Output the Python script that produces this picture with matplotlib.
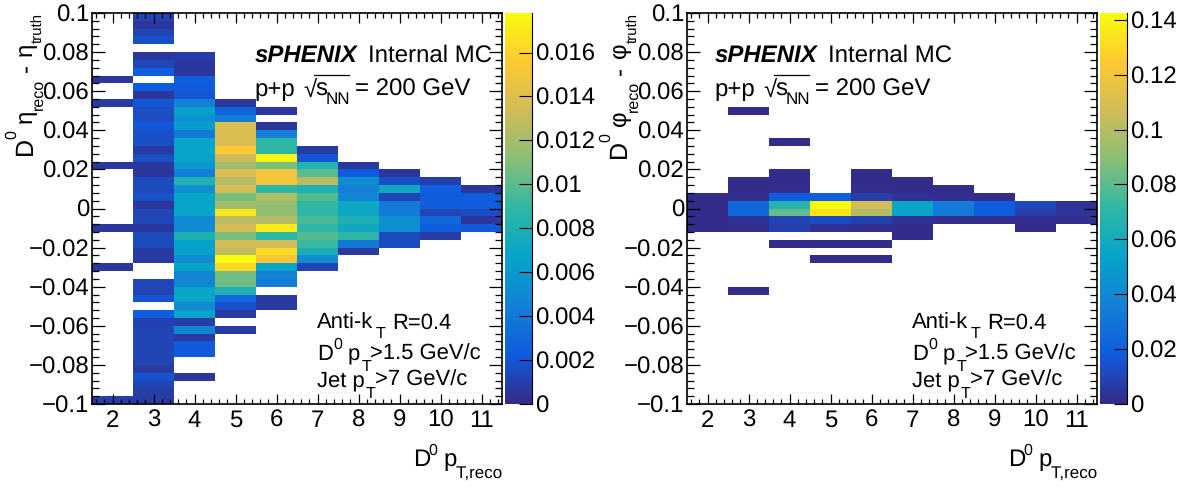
import numpy as np
import matplotlib
matplotlib.use("Agg")
import matplotlib.pyplot as plt
from matplotlib.colors import LinearSegmentedColormap
from matplotlib.lines import Line2D
from matplotlib.ticker import MultipleLocator, AutoMinorLocator

plt.rcParams['font.family'] = ['Liberation Sans', 'DejaVu Sans']
plt.rcParams['text.hinting'] = 'no_hinting'
plt.rcParams['text.hinting_factor'] = 1

pt_edges = np.arange(1.5, 12.5, 1)
res_edges = np.linspace(0.1, -0.1, 51)
pt_ticks = [2, 3, 4, 5, 6, 7, 8, 9, 10, 11]

# eta residual, one list per pT bin, top row (0.1) to bottom row (-0.1)
eta_pt2 = [0] * 8 + [0.0006] + [0] * 2 + [0.0007] + [0] * 7 + [0.0006] + [0] * 7 + [0.0006] + [0] * 4 + [0.0006] + [0] * 16 + [0.0009]
eta_pt3 = [0.0012, 0.0006, 0.0012, 0.0017, 0, 0.0006, 0.0012, 0.0024, 0, 0.0023, 0.0006, 0.002, 0.0016, 0.0016,
           0.0021, 0.0017, 0.0017, 0.0007, 0.0016, 0.0006, 0.0006, 0.0014, 0.0014, 0.0017, 0.0006,
           0.0013, 0.0013, 0.0006, 0.0014, 0.0014, 0.0007, 0.0007, 0, 0, 0.0013, 0.0012, 0.0019, 0, 0.0024,
           0.0011, 0.0012, 0.0012, 0.0012, 0.0012, 0.0012, 0.0007, 0.0018, 0.0012, 0.0008, 0.0008]
eta_pt4 = [0] * 5 + [0.0008, 0.0006, 0.0006, 0.0024, 0.0022, 0.002, 0.0045, 0.0066, 0.0055, 0.0062,
                     0.004, 0.0068, 0.0068, 0.0068, 0.006, 0.0042, 0.0082, 0.0055, 0.0068, 0.0068,
                     0.0068, 0.005, 0.0052, 0.008, 0.0066, 0.0066, 0.0052, 0.0066, 0.0048, 0.0048, 0.0068, 0.0068,
                     0.0052, 0.0066, 0.0009, 0.0048, 0.0007, 0.0022, 0.0022, 0, 0, 0.0006, 0, 0, 0]
eta_pt5 = [0] * 11 + [0.0006, 0.0028, 0.0042, 0.0138, 0.0138, 0.0138, 0.0155, 0.0132,
                      0.0118, 0.0138, 0.0125, 0.0135, 0.0108, 0.012,
                      0.0168, 0.0128, 0.0135, 0.0108, 0.0135, 0.0128, 0.0178, 0.0162, 0.0105, 0.0105, 0.008, 0.003,
                      0.0018, 0.0007, 0, 0.0007] + [0] * 9
eta_pt6 = [0] * 12 + [0.0006, 0, 0.0006, 0.0044, 0.0088, 0.0088, 0.0175, 0.0108, 0.015, 0.015, 0.0088, 0.0123, 0.0115,
                      0.0115, 0.0125, 0.017, 0.0088, 0.0135, 0.0163, 0.0153, 0.0068, 0.0046, 0.0042, 0,
                      0.0007, 0.0007] + [0] * 12
eta_pt7 = [0] * 17 + [0.0007, 0.002, 0.0082, 0.01, 0.0125, 0.0082, 0.0098, 0.009,
                      0.0088, 0.0095, 0.0088, 0.0098, 0.0092, 0.0078, 0.0052, 0.0012] + [0] * 17
eta_pt8 = [0] * 19 + [0.0006, 0.0022, 0.0052, 0.0045, 0.0048, 0.007,
                      0.007, 0.008, 0.0072, 0.0088, 0.004, 0.0007] + [0] * 19
eta_pt9 = [0] * 20 + [0.0006, 0.0017, 0.0072, 0.0012, 0.004, 0.0042, 0.0054, 0.0054, 0.0015, 0.0015] + [0] * 20
eta_pt10 = [0] * 21 + [0.001, 0.0025, 0.0023, 0.0023, 0.0012, 0.003, 0.0024, 0.0008] + [0] * 21
eta_pt11 = [0] * 22 + [0.0006, 0.0023, 0.0023, 0.0016, 0.0006, 0.0021] + [0] * 22

# phi residual, only the filled rows: row number counted from the top, then one value per pT bin
phi_rows = [12, 16, 20, 21, 22, 23, 24, 25, 26, 27, 28, 29, 31, 35]
phi_vals = [
    [0, 0.001, 0, 0, 0, 0, 0, 0, 0, 0],
    [0, 0, 0.001, 0, 0, 0, 0, 0, 0, 0],
    [0, 0, 0.001, 0, 0.001, 0, 0, 0, 0, 0],
    [0, 0.001, 0.001, 0, 0.001, 0.001, 0, 0, 0, 0],
    [0, 0.001, 0.002, 0, 0.002, 0.001, 0.001, 0, 0, 0],
    [0.001, 0.002, 0.018, 0.019, 0.007, 0.003, 0.002, 0.001, 0, 0],
    [0.001, 0.024, 0.068, 0.142, 0.108, 0.055, 0.033, 0.018, 0.011, 0.003],
    [0.001, 0.024, 0.082, 0.135, 0.1, 0.055, 0.033, 0.018, 0.007, 0.004],
    [0.001, 0.003, 0.009, 0.012, 0.008, 0.003, 0.002, 0.002, 0.002, 0.002],
    [0.001, 0.002, 0.008, 0.003, 0.002, 0.001, 0, 0, 0.001, 0],
    [0, 0, 0, 0, 0, 0.001, 0, 0, 0, 0],
    [0, 0, 0.001, 0.001, 0.001, 0, 0, 0, 0, 0],
    [0, 0, 0, 0.001, 0.001, 0, 0, 0, 0, 0],
    [0, 0.001, 0, 0, 0, 0, 0, 0, 0, 0],
]

eta_max = 0.0178
phi_max = 0.1425
eta_cbar_ticks = [0, 0.002, 0.004, 0.006, 0.008, 0.01, 0.012, 0.014, 0.016]
eta_cbar_labels = ['0', '0.002', '0.004', '0.006', '0.008', '0.01', '0.012', '0.014', '0.016']
phi_cbar_ticks = [0, 0.02, 0.04, 0.06, 0.08, 0.1, 0.12, 0.14]
phi_cbar_labels = ['0', '0.02', '0.04', '0.06', '0.08', '0.1', '0.12', '0.14']

# ROOT kBird palette
bird_stops = [0.0, 0.125, 0.25, 0.375, 0.5, 0.625, 0.75, 0.875, 1.0]
bird_r = [0.2082, 0.0592, 0.0780, 0.0232, 0.1802, 0.5301, 0.8186, 0.9956, 0.9764]
bird_g = [0.1664, 0.3599, 0.5041, 0.6419, 0.7178, 0.7492, 0.7328, 0.7862, 0.9832]
bird_b = [0.5293, 0.8684, 0.8385, 0.7914, 0.6425, 0.4662, 0.3499, 0.1968, 0.0539]
bird = LinearSegmentedColormap.from_list('bird', list(zip(bird_stops, zip(bird_r, bird_g, bird_b))), N=255)

W, H = 1185, 487
FS = 17


def add_axes_px(fig, x0, x1, y0, y1):
    return fig.add_axes([x0 / W, 1 - y1 / H, (x1 - x0) / W, (y1 - y0) / H])


def put_text(fig, x, y, s, size=17, **kw):
    fig.text(x / W, 1 - y / H, s, va='baseline', ha='left', fontsize=size, **kw)


def put_vtext(fig, x, y, s, size):
    # rotated piece of a y title, x is the baseline, y the lower end
    fig.text(x / W, 1 - y / H, s, rotation=90, rotation_mode='anchor', va='baseline', ha='left', fontsize=size)


def draw_panel(fig, x0, x1, cb_x0, cb_x1, z, vmax, ticks, labels):
    ax = add_axes_px(fig, x0, x1, 13, 404)
    ax.pcolormesh(pt_edges, res_edges, np.ma.masked_equal(z, 0), cmap=bird, vmin=0, vmax=vmax)
    ax.set_xlim(1.5, 11.5)
    ax.set_ylim(-0.1, 0.1)
    ax.set_axisbelow(False)
    ax.set_xticks(pt_ticks)
    ax.xaxis.set_minor_locator(AutoMinorLocator(5))
    ax.yaxis.set_minor_locator(MultipleLocator(0.004))
    ax.set_yticks(np.round(np.arange(-0.1, 0.101, 0.02), 2))
    ax.set_yticklabels(['\u22120.1', '\u22120.08', '\u22120.06', '\u22120.04', '\u22120.02', '0',
                        '0.02', '0.04', '0.06', '0.08', '0.1'])
    ax.tick_params(which='major', axis='x', direction='in', top=True, length=7.5, width=0.9, labelsize=FS, pad=4)
    ax.tick_params(which='minor', axis='x', direction='in', top=True, length=3.8, width=0.9)
    ax.tick_params(which='major', axis='y', direction='in', right=True, length=9.5, width=0.9, labelsize=FS, pad=2)
    ax.tick_params(which='minor', axis='y', direction='in', right=True, length=4.8, width=0.9)
    for s in ax.spines.values():
        s.set_linewidth(1.2)

    # x title, subscript sits well below the baseline like in ROOT
    dx = x1 - 502
    put_text(fig, 413 + dx, 466, 'D', 17)
    put_text(fig, 428 + dx, 455, '0', 11.5)
    put_text(fig, 443 + dx, 466, 'p', 17)
    put_text(fig, 456 + dx, 478, 'T,reco', 12)

    cax = add_axes_px(fig, cb_x0, cb_x1, 13, 404)
    grad = np.linspace(0, vmax, 255).reshape(-1, 1)
    cax.pcolormesh([0, 1], np.linspace(0, vmax, 256), grad, cmap=bird, vmin=0, vmax=vmax)
    cax.set_xticks([])
    cax.set_ylim(0, vmax)
    cax.yaxis.tick_right()
    cax.set_yticks(ticks)
    cax.set_yticklabels(labels)
    cax.set_axisbelow(False)
    cax.tick_params(axis='y', direction='in', length=9.5, width=0.8, labelsize=FS, pad=2)
    for name, s in cax.spines.items():
        s.set_visible(name == 'right')
    cax.spines['right'].set_linewidth(0.8)


eta_z = np.array([eta_pt2, eta_pt3, eta_pt4, eta_pt5, eta_pt6, eta_pt7, eta_pt8, eta_pt9, eta_pt10, eta_pt11]).T
phi_z = np.zeros((50, 10))
for row, vals in zip(phi_rows, phi_vals):
    phi_z[row] = vals

fig = plt.figure(figsize=(W / 100, H / 100), dpi=100)

draw_panel(fig, 92, 502, 505, 532, eta_z, eta_max, eta_cbar_ticks, eta_cbar_labels)
draw_panel(fig, 687, 1097, 1100, 1127, phi_z, phi_max, phi_cbar_ticks, phi_cbar_labels)

# y titles
put_vtext(fig, 32, 155, 'D', 18)
put_vtext(fig, 16, 139, '0', 11.5)
put_vtext(fig, 32, 123, '\u03b7', 17.5)
put_vtext(fig, 43, 110, 'reco', 11.5)
put_vtext(fig, 32, 72, '-', 17.5)
put_vtext(fig, 32, 56, '\u03b7', 17.5)
put_vtext(fig, 43, 43, 'truth', 11)

put_vtext(fig, 626, 158, 'D', 18)
put_vtext(fig, 610, 142, '0', 11.5)
put_vtext(fig, 626, 126, '\u03c6', 17.5)
put_vtext(fig, 638, 112, 'reco', 11.5)
put_vtext(fig, 626, 75, '-', 17.5)
put_vtext(fig, 626, 58, '\u03c6', 17.5)
put_vtext(fig, 638, 43, 'truth', 11)

# text boxes on the panels
for sx, lx in [(0, 0), (460, 595)]:
    put_text(fig, 255 + sx, 62, 'sPHENIX', fontweight='bold', fontstyle='italic')
    put_text(fig, 368 + sx, 62, 'Internal MC')
    put_text(fig, 254 + sx, 96, 'p+p')
    # root sign built by hand, mathtext makes it too wide
    put_text(fig, 303 + sx, 98, '\u221a', 17)
    fig.add_artist(Line2D([(314 + sx) / W, (349 + sx) / W], [1 - 75 / H, 1 - 75 / H], color='black', lw=0.9))
    put_text(fig, 315 + sx, 96, 's')
    put_text(fig, 326 + sx, 104, 'NN', 12)
    put_text(fig, 355 + sx, 96, '= 200 GeV')

    put_text(fig, 317 + lx, 329, 'Anti-k', 16)
    put_text(fig, 376 + lx, 338, 'T', 11.5)
    put_text(fig, 392 + lx, 329, 'R=0.4', 16)
    put_text(fig, 317 + lx, 360, 'D', 16)
    put_text(fig, 333 + lx, 349, '0', 11.5)
    put_text(fig, 348 + lx, 360, 'p', 16)
    put_text(fig, 362 + lx, 371, 'T', 11.5)
    put_text(fig, 370 + lx, 360, '>1.5 GeV/c', 16)
    put_text(fig, 317 + lx, 386, 'Jet p', 16)
    put_text(fig, 366 + lx, 398, 'T', 11.5)
    put_text(fig, 375 + lx, 386, '>7 GeV/c', 16)

fig.savefig('out.png', dpi=100)
